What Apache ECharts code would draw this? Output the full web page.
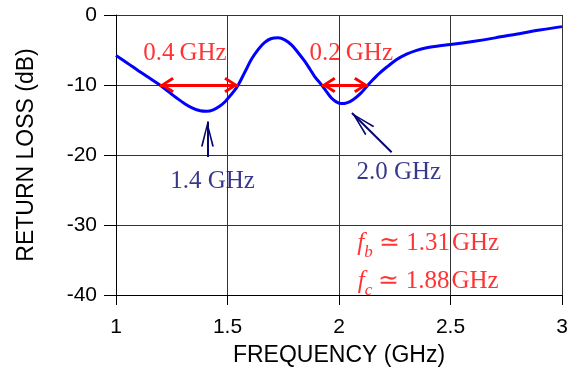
<!DOCTYPE html>
<html>
<head>
<meta charset="utf-8">
<script src="https://cdn.jsdelivr.net/npm/echarts@6/dist/echarts.min.js"></script>
<style>
  html, body { margin: 0; padding: 0; background: #fff; }
  #chart { width: 575px; height: 372px; }
</style>
</head>
<body>
<div id="chart"></div>
<script>
// Measured return loss (dB) against frequency (GHz)
const freqGHz = [
  1.0, 1.05, 1.1, 1.15, 1.197, 1.235, 1.272, 1.31, 1.346, 1.378, 1.406, 1.436, 1.466, 1.49, 1.51, 1.53, 1.548,
  1.578, 1.608, 1.638, 1.667, 1.697, 1.727, 1.757, 1.787, 1.816, 1.846, 1.87, 1.891, 1.922, 1.944, 1.966,
  1.99, 2.011, 2.035, 2.063, 2.097, 2.13, 2.155, 2.182, 2.22, 2.257, 2.303, 2.348, 2.393, 2.438, 2.5,
  2.6, 2.7, 2.8, 2.9, 3.0
];
const returnLossDb = [
  -5.8, -6.85, -7.95, -9.0, -10.0, -10.95, -11.85, -12.7, -13.35, -13.68, -13.75, -13.55, -13.0, -12.35, -11.6, -10.85, -10.0,
  -8.15, -6.3, -4.9, -3.9, -3.35, -3.25, -3.55, -4.27, -5.35, -6.6, -7.75, -8.8, -10.0, -10.95, -11.85,
  -12.45, -12.66, -12.55, -12.1, -11.2, -10.0, -9.15, -8.3, -7.3, -6.4, -5.6, -5.05, -4.68, -4.45, -4.22,
  -3.78, -3.27, -2.7, -2.15, -1.66
];

// Axis ranges and ticks
const xTicks = [1, 1.5, 2, 2.5, 3];
const yTicks = [-40, -30, -20, -10, 0];

// -10 dB bandwidth markers: [start, end] frequency and the label shown above
const bandLevel = -10;
const bands = [
  { from: 1.197, to: 1.548, text: '0.4\u2009GHz', at: [1.309, -5.45] },
  { from: 1.922, to: 2.13, text: '0.2\u2009GHz', at: [2.055, -5.45] }
];

// Resonance pointers: arrow tail, arrow tip, label text and label position
const resonances = [
  { tail: [1.41, -20.3], tip: [1.41, -15.2], text: '1.4 GHz', at: [1.433, -23.77] },
  { tail: [2.236, -19.6], tip: [2.058, -14.0], text: '2.0 GHz', at: [2.268, -22.5] }
];

// Band edge frequencies
const edgeNames = ['b', 'c'];
const edgeValues = ['1.31', '1.88'];
const edgePos = [[2.4, -32.67], [2.4, -38.08]];

const RED = '#ff0000';
const NAVY = '#06066e';
const serif = '"Liberation Serif", "Times New Roman", serif';
const sans = '"Liberation Sans", Arial, sans-serif';

const redChevron = 'path://M8,0 L16,12 L13.6,13.6 L8,4.8 L2.4,13.6 L0,12 Z';
const navyChevron = 'path://M6.5,0 L13,25 L11.2,25 L6.5,5.5 L1.8,25 L0,25 Z';

const chart = echarts.init(document.getElementById('chart'), null, { renderer: 'canvas' });

const curve = freqGHz.map((f, i) => [f, returnLossDb[i]]);

const textSeries = (items, color) => ({
  type: 'scatter',
  symbolSize: 0,
  silent: true,
  z: 5,
  data: items.map(it => ({
    value: it.at,
    label: {
      show: true,
      position: 'inside',
      formatter: it.text,
      color: color,
      fontFamily: serif,
      fontSize: 25
    }
  }))
});

const option = {
  animation: false,
  backgroundColor: '#ffffff',
  grid: { left: 116, right: 13, top: 15, bottom: 76, containLabel: false },
  xAxis: {
    type: 'value',
    min: xTicks[0],
    max: xTicks[xTicks.length - 1],
    interval: xTicks[1] - xTicks[0],
    name: 'FREQUENCY (GHz)',
    nameLocation: 'middle',
    nameGap: 49,
    nameTextStyle: { fontFamily: sans, fontSize: 23, color: '#000' },
    axisLine: { show: true, onZero: false, lineStyle: { color: '#000', width: 1 } },
    axisTick: { show: true, length: 10, lineStyle: { color: '#000' } },
    axisLabel: { fontFamily: sans, fontSize: 21, color: '#000', margin: 22 },
    splitLine: { show: true, lineStyle: { color: '#333', width: 1 } }
  },
  yAxis: {
    type: 'value',
    min: yTicks[0],
    max: yTicks[yTicks.length - 1],
    interval: yTicks[1] - yTicks[0],
    name: 'RETURN LOSS (dB)',
    nameLocation: 'middle',
    nameGap: 78,
    nameTextStyle: { fontFamily: sans, fontSize: 23, color: '#000' },
    axisLine: { show: true, onZero: false, lineStyle: { color: '#000', width: 1 } },
    axisTick: { show: true, length: 12, lineStyle: { color: '#000' } },
    axisLabel: { fontFamily: sans, fontSize: 21, color: '#000', margin: 19 },
    splitLine: { show: true, lineStyle: { color: '#333', width: 1 } }
  },
  series: [
    {
      name: 'Return loss',
      type: 'line',
      data: curve,
      smooth: 0.35,
      showSymbol: false,
      lineStyle: { color: '#0000ff', width: 3 },
      z: 3
    },
    {
      // bandwidth arrows at -10 dB
      type: 'line',
      data: [],
      silent: true,
      z: 4,
      markLine: {
        silent: true,
        animation: false,
        symbol: [redChevron, redChevron],
        symbolSize: [16, 14],
        symbolOffset: [[0, '50%'], [0, '50%']],
        label: { show: false },
        lineStyle: { color: RED, width: 3, type: 'solid' },
        emphasis: { disabled: true },
        data: bands.map(b => [{ coord: [b.from, bandLevel] }, { coord: [b.to, bandLevel] }])
      }
    },
    {
      // resonance pointer arrows
      type: 'line',
      data: [],
      silent: true,
      z: 4,
      markLine: {
        silent: true,
        animation: false,
        symbol: ['none', navyChevron],
        symbolSize: [13, 25],
        symbolOffset: [[0, 0], [0, '50%']],
        label: { show: false },
        lineStyle: { color: NAVY, width: 2, type: 'solid' },
        emphasis: { disabled: true },
        data: resonances.map(r => [{ coord: r.tail }, { coord: r.tip }])
      }
    },
    textSeries(bands, RED),
    textSeries(resonances, NAVY),
    {
      // band edge frequency labels
      type: 'scatter',
      symbolSize: 0,
      silent: true,
      z: 5,
      data: edgeNames.map((n, i) => ({
        value: edgePos[i],
        label: {
          show: true,
          position: 'inside',
          formatter: '{f|f}{s|' + n + '}{t| \u2243 ' + edgeValues[i] + '\u200aGHz}',
          rich: {
            f: { fontFamily: serif, fontStyle: 'italic', fontSize: 25, color: RED, lineHeight: 34 },
            s: { fontFamily: serif, fontStyle: 'italic', fontSize: 17, color: RED, lineHeight: 20, verticalAlign: 'bottom' },
            t: { fontFamily: serif, fontSize: 25, color: RED, lineHeight: 34 }
          }
        }
      }))
    }
  ]
};

chart.setOption(option);
</script>
</body>
</html>
